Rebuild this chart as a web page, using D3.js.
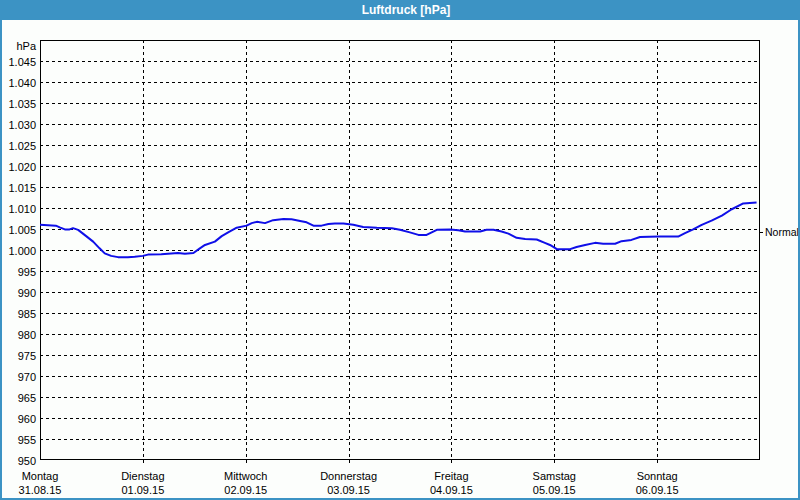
<!DOCTYPE html>
<html>
<head>
<meta charset="utf-8">
<script src="https://cdn.jsdelivr.net/npm/d3@7"></script>
<style>
  html, body { margin: 0; padding: 0; background: #fcfefc; }
  svg { display: block; }
  text { font-family: "Liberation Sans", Arial, sans-serif; }
</style>
</head>
<body>
<svg id="chart" width="800" height="500"></svg>
<script>
// ---- data ----
const title = "Luftdruck [hPa]";
const unitLabel = "hPa";
const dayNames = ["Montag", "Dienstag", "Mittwoch", "Donnerstag", "Freitag", "Samstag", "Sonntag"];
const dayDates = ["31.08.15", "01.09.15", "02.09.15", "03.09.15", "04.09.15", "05.09.15", "06.09.15"];
const yTicks = [950, 955, 960, 965, 970, 975, 980, 985, 990, 995, 1000, 1005, 1010, 1015, 1020, 1025, 1030, 1035, 1040, 1045];
const normalValue = 1004.4;
const normalLabel = "Normal";
// hours since Montag 31.08.15 00:00
const hours = [0, 3.7, 4.6, 5.8, 6.9, 7.7, 8.9, 10.4, 12.4, 13.9, 15.1, 16.6, 18.2, 20.5, 22.1, 24.0, 25.2, 28.3, 32.2, 33.8,
  35.8, 37.3, 38.5, 40.8, 42.4, 43.9, 45.9, 48.2, 49.4, 50.6, 52.5, 54.4, 56.8, 58.7, 60.7, 62.2, 63.8, 65.7, 67.3, 68.8,
  70.8, 73.1, 75.4, 78.6, 82.1, 84.0, 86.3, 88.3, 90.2, 92.6, 95.7, 97.6, 99.2, 102.7, 104.2, 105.8, 107.7, 109.3, 111.2, 113.2,
  115.9, 117.8, 119.0, 120.6, 123.7, 125.2, 127.2, 129.5, 131.4, 134.2, 135.7, 138.0, 140.0, 144.3, 148.9, 150.5, 152.4, 154.4, 156.7, 159.1,
  161.4, 164.1, 167.2];
const pressure = [1006.0, 1005.8, 1005.4, 1004.9, 1004.9, 1005.2, 1004.8, 1003.6, 1002.0, 1000.4, 999.2, 998.6, 998.3, 998.3, 998.4, 998.6, 998.9, 999.0, 999.3, 999.1,
  999.3, 1000.4, 1001.2, 1002.0, 1003.3, 1004.2, 1005.3, 1005.8, 1006.4, 1006.7, 1006.4, 1007.1, 1007.4, 1007.3, 1006.9, 1006.6, 1005.8, 1005.8, 1006.2, 1006.3,
  1006.3, 1006.0, 1005.5, 1005.3, 1005.2, 1004.8, 1004.2, 1003.6, 1003.6, 1004.8, 1004.9, 1004.7, 1004.4, 1004.4, 1004.8, 1004.8, 1004.4, 1003.9, 1002.9, 1002.6,
  1002.5, 1001.7, 1001.2, 1000.2, 1000.2, 1000.7, 1001.2, 1001.7, 1001.5, 1001.5, 1002.1, 1002.4, 1003.1, 1003.2, 1003.2, 1004.0, 1004.9, 1006.0, 1007.0, 1008.2,
  1009.7, 1011.1, 1011.3];

// ---- chart ----
(function () {
const svg = d3.select("#chart");
const W = 800, H = 500;
const pL = 40, pR = 760, pT = 40, pB = 460;
const start = new Date(2015, 7, 31);
const end = new Date(2015, 8, 7);
const dayStarts = d3.timeDay.range(start, end);

const x = d3.scaleTime().domain([start, end]).range([pL, pR]);
const y = d3.scaleLinear().domain([950, 1050]).range([pB, pT]);
const de = d3.formatLocale({decimal: ",", thousands: ".", grouping: [3], currency: ["", "€"]});
const fmt = de.format(",");

svg.append("rect").attr("width", W).attr("height", H).attr("fill", "#fcfefc");

// title bar
svg.append("rect").attr("x", 0).attr("y", 0).attr("width", W).attr("height", 20).attr("fill", "#3c93c4");
svg.append("text").attr("x", 406).attr("y", 10).attr("dy", "0.35em")
  .attr("text-anchor", "middle").attr("fill", "#ffffff")
  .attr("font-size", 12).attr("font-weight", "bold").text(title);

// horizontal grid
const gy = svg.append("g").attr("transform", `translate(${pL},0)`)
  .call(d3.axisLeft(y).tickValues(yTicks.filter(v => v > 950)).tickSize(-(pR - pL)).tickFormat(""));
gy.select(".domain").remove();
gy.selectAll("line").attr("stroke", "#000").attr("stroke-dasharray", "3,3").attr("shape-rendering", "crispEdges");

// vertical grid
const gx = svg.append("g").attr("transform", `translate(0,${pB + 3})`)
  .call(d3.axisBottom(x).tickValues(dayStarts.slice(1)).tickSize(-(pB - pT + 3)).tickFormat(""));
gx.select(".domain").remove();
gx.selectAll("line").attr("stroke", "#000").attr("stroke-dasharray", "3,3").attr("shape-rendering", "crispEdges");

// y labels
const ya = svg.append("g").attr("transform", `translate(${pL},0)`)
  .call(d3.axisLeft(y).tickValues(yTicks).tickSize(0).tickPadding(4).tickFormat(d => fmt(d)));
ya.select(".domain").remove();
ya.selectAll("text").attr("font-size", 11).attr("fill", "#000").attr("font-family", "Liberation Sans, Arial, sans-serif").attr("dy", "0.4em");
svg.append("text").attr("x", pL - 4).attr("y", 46).attr("dy", "0.35em").attr("text-anchor", "end")
  .attr("font-size", 11).attr("fill", "#000").text(unitLabel);

// x labels
const xa = svg.append("g").attr("transform", `translate(0,${pB})`)
  .call(d3.axisBottom(x).tickValues(dayStarts).tickSize(0).tickFormat(""));
xa.select(".domain").remove();
dayStarts.forEach((d, i) => {
  svg.append("text").attr("x", x(d)).attr("y", 480).attr("text-anchor", "middle")
    .attr("font-size", 11).attr("fill", "#000").text(dayNames[i]);
  svg.append("text").attr("x", x(d)).attr("y", 494).attr("text-anchor", "middle")
    .attr("font-size", 11).attr("fill", "#000").text(dayDates[i]);
});

// plot frame
svg.append("rect").attr("x", pL + 0.5).attr("y", pT + 0.5)
  .attr("width", pR - pL - 1).attr("height", pB - pT - 1)
  .attr("fill", "none").attr("stroke", "#000").attr("stroke-width", 1);

// normal marker
const yn = Math.round(y(normalValue)) + 0.5;
svg.append("line").attr("x1", pR).attr("x2", pR + 3).attr("y1", yn).attr("y2", yn).attr("stroke", "#000");
svg.append("text").attr("x", pR + 5).attr("y", y(normalValue)).attr("dy", "0.4em")
  .attr("font-size", 10.5).attr("fill", "#000").text(normalLabel);

// data line
const pts = hours.map((h, i) => ({t: new Date(start.getTime() + h * 3600e3), v: pressure[i]}));
svg.append("path").datum(pts)
  .attr("fill", "none").attr("stroke", "#0f0fe8").attr("stroke-width", 2)
  .attr("stroke-linejoin", "round")
  .attr("d", d3.line().x(d => x(d.t)).y(d => y(d.v)));

// outer blue frame
svg.append("rect").attr("x", 1).attr("y", 1).attr("width", W - 2).attr("height", H - 2)
  .attr("fill", "none").attr("stroke", "#3c93c4").attr("stroke-width", 2);
})();
</script>
</body>
</html>
